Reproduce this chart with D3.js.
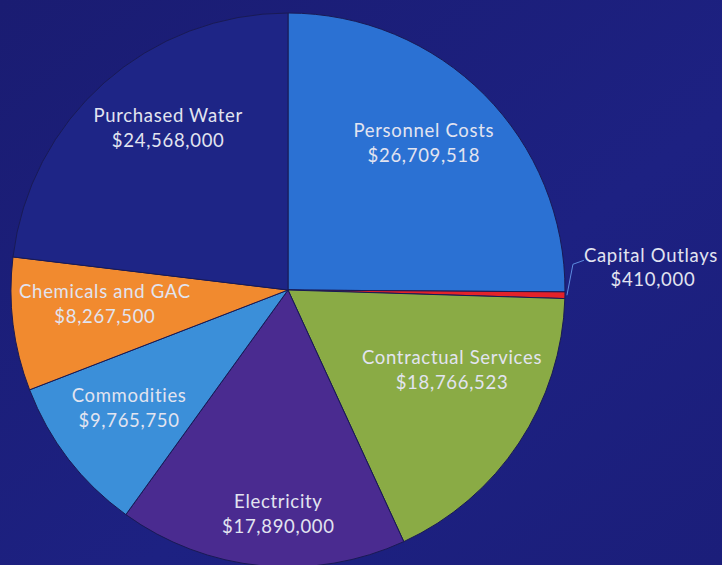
<!DOCTYPE html>
<html><head><meta charset="utf-8">
<script src="https://cdn.jsdelivr.net/npm/d3@7"></script>
<style>
html,body{margin:0;padding:0;background:#1c1f7c;}
svg{display:block;}
</style></head>
<body>
<svg id="chart" width="722" height="565"></svg>
<script>
const categories = ["Personnel Costs","Capital Outlays","Contractual Services","Electricity","Commodities","Chemicals and GAC","Purchased Water"];
const values = [26709518, 410000, 18766523, 17890000, 9765750, 8267500, 24568000];
const valueLabels = ["$26,709,518","$410,000","$18,766,523","$17,890,000","$9,765,750","$8,267,500","$24,568,000"];
const colors = ["#2b71d3","#e3222a","#8aab45","#4a2b90","#3b8fd9","#f18a2f","#1e2586"];

const W = 722, H = 565;
const cx = 288, cy = 290, R = 277;
const svg = d3.select("#chart");

const defs = svg.append("defs");
const bg = defs.append("linearGradient").attr("id","bg").attr("x1","0").attr("y1","0").attr("x2","1").attr("y2","1");
bg.append("stop").attr("offset","0%").attr("stop-color","#1a1c72");
bg.append("stop").attr("offset","60%").attr("stop-color","#1d2182");
bg.append("stop").attr("offset","100%").attr("stop-color","#1b1e7a");
svg.append("rect").attr("width",W).attr("height",H).attr("fill","url(#bg)");

const data = categories.map((c,i)=>({name:c, value:values[i], label:valueLabels[i], color:colors[i], i}));
const pie = d3.pie().value(d=>d.value).sort(null);
const arcs = pie(data);
const arc = d3.arc().innerRadius(0).outerRadius(R);

const g = svg.append("g").attr("transform",`translate(${cx},${cy})`);
g.selectAll("path.slice").data(arcs).enter().append("path")
  .attr("class","slice")
  .attr("d",arc)
  .attr("fill",d=>d.data.color)
  .attr("stroke","#191a55")
  .attr("stroke-width",1);

// label layout: angle shift (deg) from slice mid-angle, radius fraction
const labelLayout = {
  0:{da:-2.4, rf:0.722},
  2:{da:-7.5, rf:0.659},
  3:{da:-3.1, rf:0.813},
  4:{da:1.0, rf:0.715},
  5:{da:2.7, rf:0.663},
  6:{da:5.0, rf:0.726}
};
const font = "Lato, 'Open Sans', sans-serif";
const txtColor = "#e2e4f0";
const fs = 18.5;
const ls = 0.7;

arcs.forEach(a=>{
  const L = labelLayout[a.index];
  if(!L) return;
  const mid = (a.startAngle + a.endAngle)/2 + L.da*Math.PI/180;
  const x = Math.sin(mid)*R*L.rf, y = -Math.cos(mid)*R*L.rf;
  const t = g.append("text").attr("text-anchor","middle").attr("font-family",font)
    .attr("font-size",fs).attr("letter-spacing",ls).attr("fill",txtColor);
  t.append("tspan").attr("x",x).attr("y",y-6.5).text(a.data.name);
  t.append("tspan").attr("x",x).attr("y",y+18.5).text(a.data.label);
});

// Capital Outlays leader + label
const cap = arcs[1];
const capMid = (cap.startAngle+cap.endAngle)/2;
const p0 = [Math.sin(capMid)*(R+2), -Math.cos(capMid)*(R+2)];
const p1 = [p0[0]+6, p0[1]-31];
const p2 = [p1[0]+11, p1[1]-4];
g.append("path").attr("d",d3.line()([p0,p1,p2])).attr("fill","none")
  .attr("stroke","#5d8be0").attr("stroke-width",1);
const capT = g.append("text").attr("text-anchor","middle").attr("font-family",font)
  .attr("font-size",fs).attr("letter-spacing",ls).attr("fill",txtColor);
capT.append("tspan").attr("x",p2[0]+67).attr("y",p2[1]+2).text(cap.data.name);
capT.append("tspan").attr("x",p2[0]+69).attr("y",p2[1]+26).text(cap.data.label);
</script>
</body></html>
